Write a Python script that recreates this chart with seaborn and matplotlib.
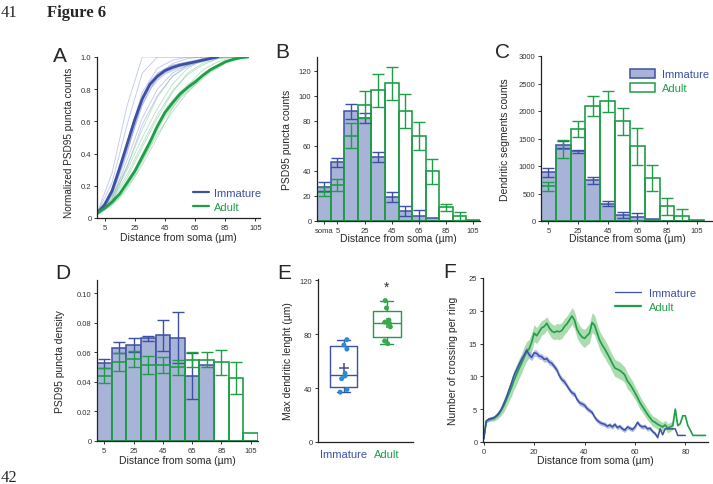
import numpy as np
import pandas as pd
import matplotlib
matplotlib.use("Agg")
import matplotlib.pyplot as plt
from matplotlib.patches import Patch
from matplotlib.lines import Line2D
import seaborn as sns

# ---------------- data ----------------
# A: normalized cumulative PSD95 puncta counts
dist_a = [0, 5, 10, 15, 20, 25, 30, 35, 40, 45, 50, 55, 60, 65, 70, 75, 80, 85, 90, 95, 100]
imm_mean_a = [0.03, 0.08, 0.17, 0.31, 0.46, 0.61, 0.74, 0.83, 0.88, 0.915, 0.935, 0.95, 0.96, 0.97, 0.98, 0.99, 1.0]
imm_sem_a = [0.01, 0.015, 0.02, 0.03, 0.035, 0.035, 0.035, 0.03, 0.025, 0.02, 0.02, 0.015, 0.015, 0.01, 0.01, 0.005, 0.0]
adult_mean_a = [0.03, 0.06, 0.10, 0.15, 0.22, 0.29, 0.38, 0.47, 0.57, 0.655, 0.715, 0.77, 0.81, 0.845, 0.885, 0.92, 0.945, 0.97, 0.985, 0.995, 1.0]
adult_sem_a = [0.01, 0.01, 0.015, 0.02, 0.025, 0.03, 0.03, 0.03, 0.03, 0.03, 0.03, 0.025, 0.025, 0.02, 0.02, 0.015, 0.015, 0.01, 0.01, 0.005, 0.0]

dist_trace = [0, 10, 20, 30, 40, 50, 60, 70, 80, 90, 100]
imm_traces = [
    [0.03, 0.28, 0.70, 1.00, 1.00, 1.00, 1.00, 1.00, 1.00, 1.00, 1.00],
    [0.03, 0.22, 0.58, 0.90, 1.00, 1.00, 1.00, 1.00, 1.00, 1.00, 1.00],
    [0.02, 0.18, 0.48, 0.78, 0.93, 0.98, 1.00, 1.00, 1.00, 1.00, 1.00],
    [0.03, 0.12, 0.36, 0.62, 0.80, 0.90, 0.95, 0.99, 1.00, 1.00, 1.00],
    [0.02, 0.10, 0.32, 0.58, 0.76, 0.88, 0.94, 0.98, 1.00, 1.00, 1.00],
    [0.04, 0.15, 0.42, 0.70, 0.88, 0.96, 0.99, 1.00, 1.00, 1.00, 1.00],
    [0.03, 0.14, 0.40, 0.74, 0.90, 0.95, 0.97, 0.99, 1.00, 1.00, 1.00],
]
adult_traces = [
    [0.03, 0.14, 0.32, 0.55, 0.75, 0.88, 0.95, 0.99, 1.00, 1.00, 1.00],
    [0.02, 0.09, 0.20, 0.36, 0.52, 0.66, 0.78, 0.88, 0.95, 0.99, 1.00],
    [0.03, 0.12, 0.27, 0.46, 0.64, 0.79, 0.89, 0.95, 0.99, 1.00, 1.00],
    [0.02, 0.08, 0.18, 0.33, 0.50, 0.68, 0.82, 0.92, 0.97, 1.00, 1.00],
    [0.03, 0.11, 0.25, 0.44, 0.62, 0.78, 0.90, 0.96, 0.99, 1.00, 1.00],
    [0.03, 0.13, 0.30, 0.50, 0.68, 0.83, 0.93, 0.98, 1.00, 1.00, 1.00],
]

# B: PSD95 puncta counts per 10 um bin
bins_b = ["soma", "5", "15", "25", "35", "45", "55", "65", "75", "85", "95", "105"]
imm_b = [27.5, 46.8, 87.8, 82.5, 51.3, 19.0, 7.7, 4.0, 2.0, 0, 0, 0]
imm_b_err = [3.3, 3.7, 6.0, 4.0, 4.0, 4.0, 4.0, 4.5, 0, 0, 0, 0]
adult_b = [23.5, 28.8, 68.0, 93.0, 104.4, 110.0, 87.8, 68.0, 39.6, 10.8, 4.0, 0.5]
adult_b_err = [3.5, 5.0, 10.0, 11.0, 13.0, 13.0, 13.5, 11.0, 10.0, 3.0, 3.0, 0]

# C: dendritic segment counts
bins_cd = ["5", "15", "25", "35", "45", "55", "65", "75", "85", "95", "105"]
imm_c = [884, 1390, 1268, 744, 317, 110, 73, 35, 0, 0, 0]
imm_c_err = [85, 70, 25, 65, 50, 50, 65, 0, 0, 0, 0]
adult_c = [628, 1310, 1677, 2091, 2177, 1811, 1360, 780, 268, 91, 20]
adult_c_err = [75, 170, 145, 190, 195, 250, 335, 235, 155, 120, 0]

# D: PSD95 puncta density
imm_d = [0.0526, 0.0632, 0.0650, 0.0695, 0.0715, 0.0700, 0.0439, 0.0512, 0, 0, 0]
imm_d_err = [0.003, 0.0035, 0.0045, 0.0015, 0.0105, 0.017, 0.0154, 0, 0, 0, 0]
adult_d = [0.0443, 0.0537, 0.0555, 0.0515, 0.0515, 0.0500, 0.0550, 0.0550, 0.0533, 0.0425, 0.0056]
adult_d_err = [0.005, 0.006, 0.0055, 0.006, 0.0055, 0.005, 0.005, 0.005, 0.0085, 0.011, 0]

# E: max dendritic length per cell
imm_len = [76, 72, 69, 51, 49, 47, 39, 37]
adult_len = [105, 99.5, 90.5, 89, 88, 85.5, 75, 73]

# F: Sholl crossings per ring
dist_f_imm = list(range(0, 81))
imm_f = [0.5, 3.2, 3.5, 3.6, 3.7, 4.0, 4.4, 5.0, 5.9, 6.8,
         7.9, 9.0, 10.2, 11.0, 11.8, 12.6, 13.2, 14.0, 13.3, 12.9,
         13.6, 13.5, 13.1, 13.0, 12.6, 12.7, 12.2, 12.0, 11.5, 11.0,
         10.1, 9.5, 9.2, 8.6, 8.0, 7.5, 7.3, 6.5, 6.0, 5.8,
         5.6, 5.1, 4.8, 4.5, 3.8, 3.3, 3.0, 2.8, 2.7, 2.4,
         2.6, 2.3, 2.7, 2.2, 2.4, 2.0, 1.8, 2.3, 2.1, 1.9,
         2.3, 3.0, 2.5, 2.3, 2.4, 2.0, 2.1, 1.6, 1.3, 0.7,
         2.0, 1.1, 2.0, 2.0, 2.0, 2.0, 2.0, 1.0, 1.0, 1.0, 1.0]
imm_f_sem = [0.2, 0.3, 0.3, 0.3, 0.3, 0.3, 0.35, 0.4,
             0.5, 0.55, 0.6, 0.6, 0.65, 0.65, 0.6, 0.6, 0.6, 0.55, 0.55, 0.5, 0.5, 0.5, 0.45,
             0.45, 0.45, 0.45, 0.45, 0.45, 0.45, 0.45, 0.45, 0.45, 0.45, 0.4, 0.4, 0.4, 0.4,
             0.4, 0.4, 0.4, 0.4, 0.4, 0.35, 0.35, 0.35, 0.35,
             0.35, 0.35, 0.35, 0.35, 0.35, 0.35, 0.35, 0.35, 0.35, 0.35, 0.35, 0.35, 0.35,
             0.35, 0.35, 0.35, 0.35, 0.35, 0.35, 0.35, 0.3, 0.3, 0.3,
             0.3, 0, 0, 0, 0, 0, 0, 0, 0, 0, 0, 0]
dist_f_adult = list(range(0, 89))
adult_f = [0.5, 3.2, 3.4, 3.5, 3.6, 3.9, 4.3, 4.9, 5.6, 6.5,
           7.4, 8.3, 9.4, 10.3, 11.2, 12.0, 13.0, 13.8, 14.2, 15.2,
           16.6, 16.2, 16.8, 17.4, 17.6, 18.1, 17.4, 16.9, 16.7, 16.9,
           16.8, 17.0, 17.6, 18.0, 18.6, 19.2, 18.6, 17.2, 16.5, 16.0,
           15.8, 16.2, 16.6, 18.2, 17.8, 16.6, 15.5, 14.8, 14.2, 13.5,
           12.8, 12.0, 11.3, 11.1, 10.9, 10.6, 10.2, 9.3, 8.8, 8.2,
           7.5, 6.8, 6.0, 5.4, 4.8, 4.2, 3.7, 3.2, 3.0, 2.7,
           2.5, 2.3, 2.6, 2.1, 2.3, 2.5, 5.0, 2.5, 2.8, 4.0,
           4.0, 2.5, 1.8, 1.0, 1.0, 1.0, 1.0, 1.0, 1.0]
adult_f_sem = [0.2, 0.3, 0.3, 0.3, 0.4, 0.5, 0.6, 0.8,
               1.0, 1.1, 1.2, 1.3, 1.4, 1.5, 1.5, 1.5, 1.5, 1.5, 1.4, 1.4, 1.3,
               1.2, 1.2, 1.1, 1.1, 1.0, 1.0, 1.1, 1.1, 1.2, 1.2, 1.2, 1.2, 1.2,
               1.2, 1.3, 1.3, 1.3, 1.3, 1.3, 1.4, 1.4, 1.5, 1.5, 1.5, 1.4, 1.4,
               1.4, 1.4, 1.4, 1.3, 1.3, 1.3, 1.3, 1.3, 1.2, 1.2, 1.2, 1.1, 1.1, 1.0,
               1.0, 1.0, 0.9, 0.9, 0.9, 0.8, 0.8, 0.8, 0.8, 0.7, 0.7, 0.7, 0.7, 0.7, 0.6, 0.5,
               0, 0, 0, 0, 0, 0, 0, 0, 0, 0, 0, 0]

# ---------------- style ----------------
BLUE = "#3d50a5"
GREEN = "#1f9e48"
FILL = "#a8b3d8"
PT_BLUE = "#2a8ad6"
PT_GREEN = "#3aa84c"

sns.set_style("ticks")
plt.rcParams["font.family"] = ["Liberation Sans", "DejaVu Sans"]

W, H = 713, 485
fig = plt.figure(figsize=(W / 100, H / 100), dpi=100)


def px_axes(left, top, right, bottom):
    return fig.add_axes([left / W, 1 - bottom / H, (right - left) / W, (bottom - top) / H])


def style(ax):
    sns.despine(ax=ax)
    for s in ("left", "bottom"):
        ax.spines[s].set_linewidth(0.9)
        ax.spines[s].set_color("#222222")
    ax.tick_params(length=2.5, width=0.7, labelsize=5.5, pad=1.5, colors="#333333")


def color_legend(leg, colors):
    for t, c in zip(leg.get_texts(), colors):
        t.set_color(c)


def draw_bars(ax, labels, imm, imm_err, adult, adult_err):
    sns.barplot(x=labels, y=imm, order=labels, color=FILL, edgecolor=BLUE, linewidth=1.1,
                width=1.0, saturation=1, errorbar=None, ax=ax)
    sns.barplot(x=labels, y=adult, order=labels, color=GREEN, fill=False, linewidth=1.2,
                width=1.0, saturation=1, errorbar=None, ax=ax)
    pos = np.arange(len(labels))
    for vals, errs, col in ((imm, imm_err, BLUE), (adult, adult_err, GREEN)):
        vals, errs = np.asarray(vals), np.asarray(errs)
        m = errs > 0
        ax.errorbar(pos[m], vals[m], yerr=errs[m], fmt="none", ecolor=col,
                    elinewidth=1.0, capsize=4, capthick=1.0, zorder=4)


LBL = 7.5

# ---------------- A ----------------
axA = px_axes(97, 58, 260, 219)
rows = []
for grp, traces in (("Immature", imm_traces), ("Adult", adult_traces)):
    for i, tr in enumerate(traces):
        for d, v in zip(dist_trace, tr):
            rows.append({"group": grp, "cell": f"{grp}{i}", "dist": d, "value": v})
traces_df = pd.DataFrame(rows)
sns.lineplot(data=traces_df, x="dist", y="value", hue="group", units="cell", estimator=None,
             palette={"Immature": "#7f90d2", "Adult": "#72c48e"}, lw=0.6, alpha=0.5,
             legend=False, ax=axA)
da_i = dist_a[:len(imm_mean_a)]
axA.fill_between(da_i, np.array(imm_mean_a) - imm_sem_a, np.array(imm_mean_a) + imm_sem_a,
                 color="#8a9ad8", alpha=0.45, lw=0)
axA.fill_between(dist_a, np.array(adult_mean_a) - adult_sem_a, np.array(adult_mean_a) + adult_sem_a,
                 color="#86d29c", alpha=0.45, lw=0)
sns.lineplot(x=da_i, y=imm_mean_a, color=BLUE, lw=2.0, ax=axA)
sns.lineplot(x=dist_a, y=adult_mean_a, color=GREEN, lw=2.0, ax=axA)
axA.set_xlim(0, 108)
axA.set_ylim(0, 1.0)
axA.set_xticks([5, 25, 45, 65, 85, 105])
axA.set_yticks([0, 0.2, 0.4, 0.6, 0.8, 1.0])
axA.set_yticklabels(["0", "0.2", "0.4", "0.6", "0.8", "1.0"])
style(axA)
axA.set_xlabel("Distance from soma (µm)", fontsize=LBL)
axA.set_ylabel("Normalized PSD95 puncta counts", fontsize=7.2)
axA.xaxis.set_label_coords(0.5, -0.09)
axA.yaxis.set_label_coords(-0.14, 0.47)
legA = axA.legend([Line2D([], [], color=BLUE, lw=1.6), Line2D([], [], color=GREEN, lw=1.6)],
                  ["Immature", "Adult"], loc="lower left", bbox_to_anchor=(0.59, 0.04),
                  frameon=False, fontsize=8, handlelength=1.4, handletextpad=0.5,
                  labelspacing=0.3, borderpad=0, borderaxespad=0)
color_legend(legA, [BLUE, GREEN])

# ---------------- B ----------------
axB = px_axes(317, 58, 480, 222)
draw_bars(axB, bins_b, imm_b, imm_b_err, adult_b, adult_b_err)
axB.set_xlim(-0.5, 11.5)
axB.set_ylim(0, 131)
axB.set_xticks([0, 1, 3, 5, 7, 9, 11])
axB.set_xticklabels(["soma", "5", "25", "45", "65", "85", "105"])
axB.set_yticks(range(0, 121, 20))
style(axB)
axB.set_xlabel("Distance from soma (µm)", fontsize=LBL)
axB.set_ylabel("PSD95 puncta counts", fontsize=LBL)
axB.xaxis.set_label_coords(0.5, -0.075)
axB.yaxis.set_label_coords(-0.155, 0.5)

# ---------------- C ----------------
axC = px_axes(541, 57, 713, 222)
draw_bars(axC, bins_cd, imm_c, imm_c_err, adult_c, adult_c_err)
axC.set_xlim(-0.5, 11.1)
axC.set_ylim(0, 3000)
axC.set_xticks([0, 2, 4, 6, 8, 10])
axC.set_xticklabels(["5", "25", "45", "65", "85", "105"])
axC.set_yticks(range(0, 3001, 500))
style(axC)
axC.set_xlabel("Distance from soma (µm)", fontsize=LBL)
axC.set_ylabel("Dendritic segments counts", fontsize=LBL)
axC.xaxis.set_label_coords(0.5, -0.075)
axC.yaxis.set_label_coords(-0.18, 0.5)
legC = axC.legend([Patch(facecolor=FILL, edgecolor=BLUE, lw=1.1),
                   Patch(facecolor="white", edgecolor=GREEN, lw=1.1)],
                  ["Immature", "Adult"], loc="upper left", bbox_to_anchor=(0.52, 0.92),
                  frameon=False, fontsize=8, handlelength=2.2, handleheight=0.8,
                  handletextpad=0.6, labelspacing=0.35, borderpad=0, borderaxespad=0)
color_legend(legC, [BLUE, GREEN])

# ---------------- D ----------------
axD = px_axes(97, 281, 258, 442)
draw_bars(axD, bins_cd, imm_d, imm_d_err, adult_d, adult_d_err)
axD.set_xlim(-0.5, 10.5)
axD.set_ylim(0, 0.109)
axD.set_xticks([0, 2, 4, 6, 8, 10])
axD.set_xticklabels(["5", "25", "45", "65", "85", "105"])
axD.set_yticks([0, 0.02, 0.04, 0.06, 0.08, 0.10])
axD.set_yticklabels(["0", "0.02", "0.04", "0.06", "0.08", "0.10"])
style(axD)
axD.set_xlabel("Distance from soma (µm)", fontsize=LBL)
axD.set_ylabel("PSD95 puncta density", fontsize=LBL)
axD.xaxis.set_label_coords(0.5, -0.085)
axD.yaxis.set_label_coords(-0.2, 0.5)

# ---------------- E ----------------
axE = px_axes(318, 280, 413, 443)


def box_stats(values, label):
    v = np.asarray(values, float)
    q1, med, q3 = np.percentile(v, [25, 50, 75], method="weibull")
    return dict(label=label, q1=q1, med=med, q3=q3, whislo=v.min(), whishi=v.max(),
                mean=v.mean(), fliers=[])


stats = [box_stats(imm_len, "Immature"), box_stats(adult_len, "Adult")]
bp = axE.bxp(stats, positions=[0, 1], widths=0.63, capwidths=0.3, showmeans=True,
             showfliers=False, manage_ticks=False,
             meanprops=dict(marker="+", markersize=7, markeredgewidth=1.1))
for i, col in enumerate((BLUE, GREEN)):
    bp["boxes"][i].set(color=col, lw=1.0)
    bp["medians"][i].set(color=col, lw=1.0)
    bp["means"][i].set(markeredgecolor=col)
    for art in bp["whiskers"][2 * i:2 * i + 2] + bp["caps"][2 * i:2 * i + 2]:
        art.set(color=col, lw=1.0)
np.random.seed(4)
strip_df = pd.DataFrame({"pos": [0] * len(imm_len) + [1] * len(adult_len),
                         "group": ["Immature"] * len(imm_len) + ["Adult"] * len(adult_len),
                         "length": imm_len + adult_len})
sns.stripplot(data=strip_df, x="pos", y="length", hue="group", native_scale=True,
              palette={"Immature": PT_BLUE, "Adult": PT_GREEN}, jitter=0.08, size=3.6,
              linewidth=0, legend=False, zorder=3, ax=axE)
axE.text(1, 115, "*", ha="center", va="center", fontsize=10, color="#333333")
axE.set_xlim(-0.59, 1.6)
axE.set_ylim(0, 121)
axE.set_yticks([0, 40, 80, 120])
axE.set_xticks([0, 1])
axE.set_xticklabels(["Immature", "Adult"])
style(axE)
axE.tick_params(axis="x", length=0, labelsize=8, pad=5)
for t, c in zip(axE.get_xticklabels(), (BLUE, GREEN)):
    t.set_color(c)
axE.set_xlabel("")
axE.set_ylabel("Max dendritic lenght (µm)", fontsize=LBL)
axE.yaxis.set_label_coords(-0.26, 0.5)

# ---------------- F ----------------
axF = px_axes(483, 279, 708, 443)
axF.fill_between(dist_f_adult, np.array(adult_f) - adult_f_sem, np.array(adult_f) + adult_f_sem,
                 color="#8fd095", alpha=0.75, lw=0)
axF.fill_between(dist_f_imm, np.array(imm_f) - imm_f_sem, np.array(imm_f) + imm_f_sem,
                 color="#8da0dc", alpha=0.7, lw=0)
sns.lineplot(x=dist_f_adult, y=adult_f, color=GREEN, lw=1.2, ax=axF)
sns.lineplot(x=dist_f_imm, y=imm_f, color=BLUE, lw=1.1, ax=axF)
axF.set_xlim(-0.3, 89)
axF.set_ylim(0, 25)
axF.set_xticks([0, 20, 40, 60, 80])
axF.set_yticks([0, 5, 10, 15, 20, 25])
style(axF)
axF.set_xlabel("Distance from soma (µm)", fontsize=LBL)
axF.set_ylabel("Number of crossing per ring", fontsize=LBL)
axF.xaxis.set_label_coords(0.5, -0.08)
axF.yaxis.set_label_coords(-0.11, 0.5)
legF = axF.legend([Line2D([], [], color=BLUE, lw=0.9), Line2D([], [], color=GREEN, lw=1.6)],
                  ["Immature", "Adult"], loc="upper left", bbox_to_anchor=(0.585, 0.94),
                  frameon=False, fontsize=8, handlelength=2.4, handletextpad=0.7,
                  labelspacing=0.35, borderpad=0, borderaxespad=0)
color_legend(legF, [BLUE, GREEN])

# ---------------- panel letters & page text ----------------
for letter, x, y in (("A", 53, 62), ("B", 275, 58), ("C", 495, 58),
                     ("D", 55, 279), ("E", 277, 279), ("F", 443, 278)):
    fig.text(x / W, 1 - y / H, letter, fontsize=15, va="baseline", ha="left")
fig.text(1 / W, 1 - 17 / H, "41", fontsize=12, va="baseline", family="Liberation Serif")
fig.text(47 / W, 1 - 17 / H, "Figure 6", fontsize=12, va="baseline", weight="bold",
         family="Liberation Serif")
fig.text(1 / W, 1 - 482 / H, "42", fontsize=12, va="baseline", family="Liberation Serif")

fig.savefig("out.png", dpi=100)
